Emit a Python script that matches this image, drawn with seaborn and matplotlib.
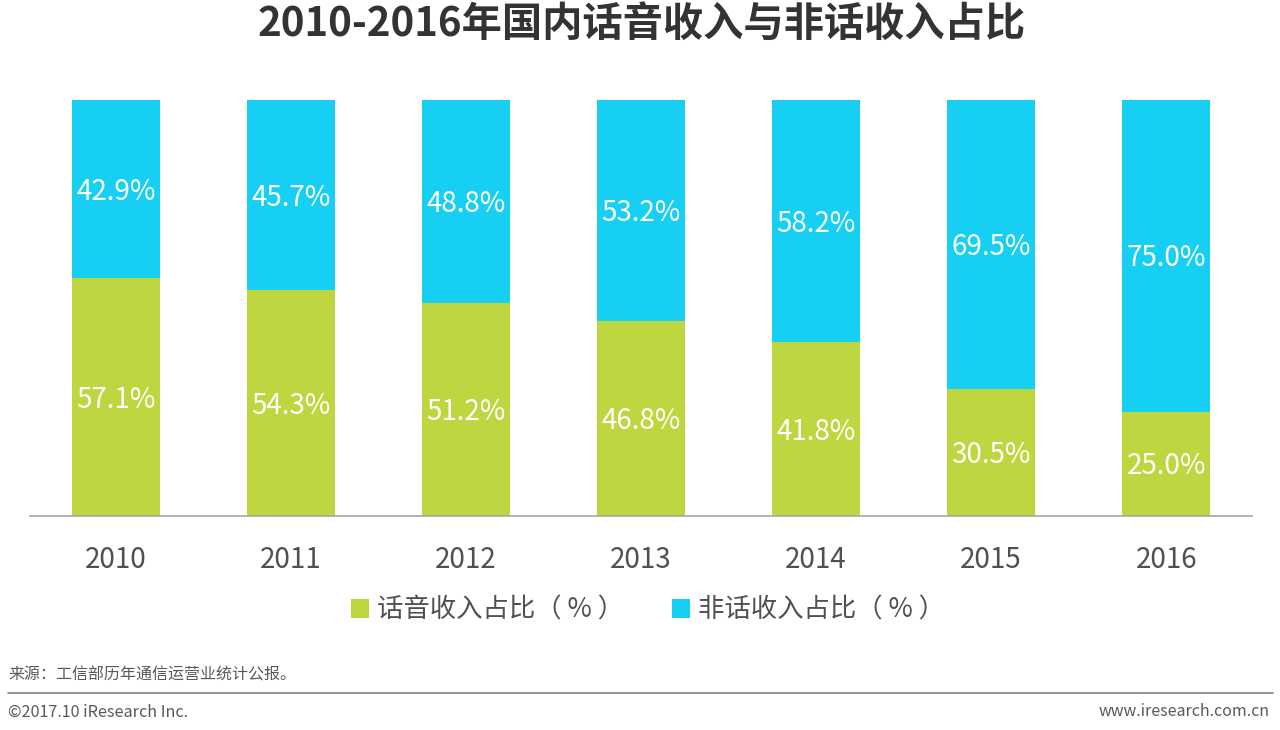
import matplotlib
matplotlib.use("Agg")
import matplotlib.pyplot as plt
from matplotlib.patches import Patch
import seaborn as sns
import pandas as pd

years = ["2010", "2011", "2012", "2013", "2014", "2015", "2016"]
voice = [57.1, 54.3, 51.2, 46.8, 41.8, 30.5, 25.0]
nonvoice = [42.9, 45.7, 48.8, 53.2, 58.2, 69.5, 75.0]
series_names = ["话音收入占比（ % ）", "非话收入占比（ % ）"]

GREEN = "#BED63F"
BLUE = "#16CFF2"
TEXT = "#505050"

sns.set_theme(style="white")
plt.rcParams["font.family"] = ["Noto Sans CJK SC", "DejaVu Sans"]

df = pd.DataFrame({"year": years, "voice": voice, "nonvoice": nonvoice})
df["total"] = df["voice"] + df["nonvoice"]

fig = plt.figure(figsize=(12.8, 7.3), dpi=100)
ax = fig.add_axes([30 / 1280, 214 / 730, 1222 / 1280, 416 / 730])

sns.barplot(data=df, x="year", y="total", color=BLUE, width=0.5, ax=ax,
            saturation=1, linewidth=0, errorbar=None)
sns.barplot(data=df, x="year", y="voice", color=GREEN, width=0.5, ax=ax,
            saturation=1, linewidth=0, errorbar=None)

for i, (v, n) in enumerate(zip(voice, nonvoice)):
    ax.text(i, v / 2 - 0.6, f"{v:.1f}%", ha="center", va="center", color="white", fontsize=20)
    ax.text(i, v + n / 2 - 0.6, f"{n:.1f}%", ha="center", va="center", color="white", fontsize=20)

ax.set_ylim(0, 100)
ax.set_xlim(-0.49, 6.49)
ax.set_xlabel("")
ax.set_ylabel("")
ax.set_yticks([])
for s in ["top", "right", "left"]:
    ax.spines[s].set_visible(False)
ax.spines["bottom"].set_color("#A6A6A6")
ax.spines["bottom"].set_linewidth(1.2)
ax.tick_params(axis="x", length=0, pad=21, labelsize=20, labelcolor=TEXT)

fig.text(642 / 1280, 1 - 24 / 730, "2010-2016年国内话音收入与非话收入占比", ha="center", va="center",
         fontsize=29, fontweight="bold", color="#333333")

handles = [Patch(facecolor=GREEN, edgecolor="none"), Patch(facecolor=BLUE, edgecolor="none")]
fig.legend(handles, series_names, loc="center", bbox_to_anchor=(648 / 1280, 1 - 610 / 730),
           ncol=2, frameon=False, fontsize=19, labelcolor=TEXT, handlelength=0.7,
           handleheight=0.7, handletextpad=0.3, columnspacing=1.8)

fig.text(8 / 1280, 1 - 675 / 730, "来源：工信部历年通信运营业统计公报。", ha="left", va="center",
         fontsize=11.5, color="#595959")
fig.add_artist(plt.Line2D([8 / 1280, 1273 / 1280], [1 - 693 / 730, 1 - 693 / 730],
                          color="#808080", linewidth=1.2))
fig.text(8 / 1280, 1 - 712 / 730, "©2017.10 iResearch Inc.", ha="left", va="center",
         fontsize=11.7, color="#595959")
fig.text(1270 / 1280, 1 - 712 / 730, "www.iresearch.com.cn", ha="right", va="center",
         fontsize=11.5, color="#595959")

fig.savefig("out.png", dpi=100)
